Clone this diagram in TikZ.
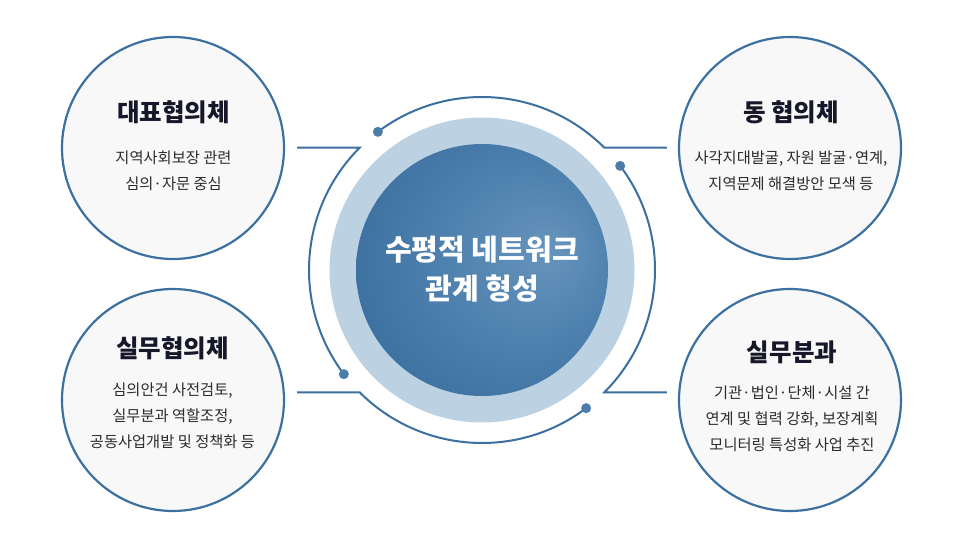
\documentclass[tikz,border=0pt]{standalone}
\usepackage{fontspec}
\setmainfont{Noto Sans CJK KR}
\usetikzlibrary{calc}
\definecolor{lineblue}{HTML}{3C70A0}
\definecolor{dotblue}{HTML}{4B7DA8}
\definecolor{ringblue}{HTML}{BCD2E3}
\definecolor{cirfill}{HTML}{F8F8F8}
\definecolor{titlec}{HTML}{17172A}
\definecolor{bodyc}{HTML}{2B2B2B}
\definecolor{coreedge}{HTML}{3A6E9E}
\definecolor{coremid}{HTML}{4D80AD}
\definecolor{corehl}{HTML}{6694BC}
\pgfdeclareradialshading{coreshade}{\pgfpoint{14bp}{4bp}}{color(0bp)=(corehl); color(18bp)=(coremid); color(34bp)=(coreedge); color(50bp)=(coreedge)}
\tikzset{
  sidecircle/.style={circle, draw=lineblue, line width=2.2pt, fill=cirfill, minimum size=222pt, inner sep=0pt},
  conn/.style={draw=lineblue, line width=2pt},
  enddot/.style={circle, fill=dotblue, minimum size=10pt, inner sep=0pt},
  titletxt/.style={font=\fontsize{24.5}{28}\selectfont\bfseries, text=titlec, inner sep=0pt},
  bodytxt/.style={font=\fontsize{15.3}{26}\selectfont, text=bodyc, align=center, inner sep=0pt},
  coretxt/.style={font=\fontsize{29}{39}\selectfont\bfseries, text=white, align=center, inner sep=0pt},
}
\begin{document}
\begin{tikzpicture}[x=1pt,y=1pt]
\useasboundingbox (0,0) rectangle (970,550);
\fill[white] (0,0) rectangle (970,550);
\coordinate (C) at (482,280);
% side circles
\node[sidecircle] (tl) at (173,402) {};
\node[sidecircle] (tr) at (790,402) {};
\node[sidecircle] (bl) at (173,150) {};
\node[sidecircle] (br) at (790,150) {};
% ring and core
\fill[ringblue] (C) circle[radius=152.5];
\node[circle, minimum size=252pt, inner sep=0pt, shading=coreshade] (core) at (C) {};
\node[coretxt] (coretext) at ($(C)+(0,0.5)$) {수평적 네트워크\\관계 형성};
% connector points
\coordinate (d1) at ($(C)+(127:173)$);
\coordinate (a1) at ($(C)+(45:173)$);
\coordinate (d2) at ($(C)+(37:173)$);
\coordinate (a2) at ($(C)+(-45:173)$);
\coordinate (d3) at ($(C)+(-53:173)$);
\coordinate (a3) at ($(C)+(-135:173)$);
\coordinate (d4) at ($(C)+(217:173)$);
\coordinate (a4) at ($(C)+(135:173)$);
\coordinate (e1) at ($(tr.west)+(-11,0)$);
\coordinate (e2) at ($(br.west)+(-11,8)$);
\coordinate (e3) at ($(bl.east)+(12,8)$);
\coordinate (e4) at ($(tl.east)+(12,0)$);
% connectors
\draw[conn] (d1) arc[start angle=127, end angle=45, radius=173] -- (a1 -| e1);
\draw[conn] (d2) arc[start angle=37, end angle=-45, radius=173] -- (a2 -| e2);
\draw[conn] (d3) arc[start angle=-53, end angle=-135, radius=173] -- (a3 -| e3);
\draw[conn] (d4) arc[start angle=217, end angle=135, radius=173] -- (a4 -| e4);
\node[enddot] (dot1) at (d1) {};
\node[enddot] (dot2) at (d2) {};
\node[enddot] (dot3) at (d3) {};
\node[enddot] (dot4) at (d4) {};
% texts
\node[titletxt] (tlt) at (173.5,438) {대표협의체};
\node[bodytxt] (tlb) at (173.5,379) {지역사회보장 관련\\심의·자문 중심};
\node[titletxt] (trt) at (791,438) {동 협의체};
\node[bodytxt] (trb) at (791,379) {사각지대발굴, 자원 발굴·연계,\\지역문제 해결방안 모색 등};
\node[titletxt] (blt) at (172.5,202) {실무협의체};
\node[bodytxt] (blb) at (172.5,134) {심의안건 사전검토,\\실무분과 역할조정,\\공동사업개발 및 정책화 등};
\node[titletxt] (brt) at (792,198) {실무분과};
\node[bodytxt] (brb) at (792,131) {기관·법인·단체·시설 간\\연계 및 협력 강화, 보장계획\\모니터링 특성화 사업 추진};
\end{tikzpicture}
\end{document}
